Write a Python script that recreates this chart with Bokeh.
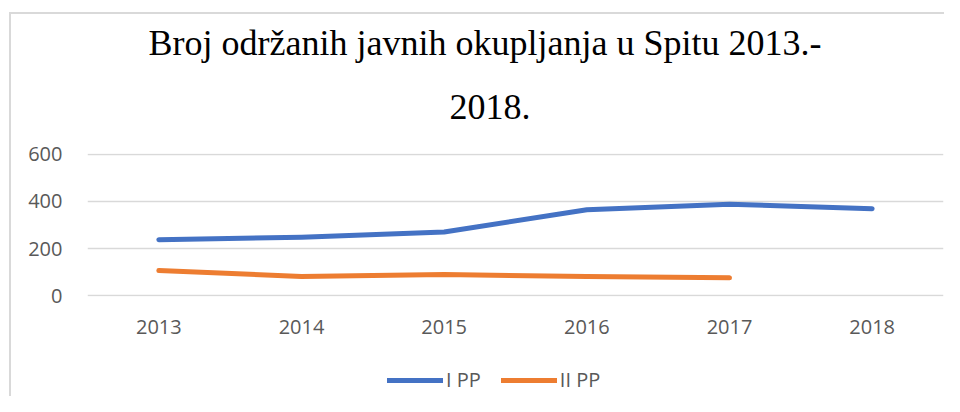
from bokeh.plotting import figure
from bokeh.layouts import column
from bokeh.models import Range1d, FactorRange, Legend, LegendItem, FixedTicker, Title
from bokeh.embed import file_html
from bokeh.resources import INLINE

years = ["2013", "2014", "2015", "2016", "2017", "2018"]
i_pp = [238, 248, 270, 365, 388, 369]
ii_pp = [107, 82, 90, 82, 76]
y_ticks = [0, 200, 400, 600]
title_line1 = "Broj održanih javnih okupljanja u Spitu 2013.-"
title_line2 = "2018."
series_names = ["I PP", "II PP"]
colors = ["#4472C4", "#ED7D31"]

x_range = FactorRange(factors=years, range_padding=0)
p = figure(frame_width=856, frame_height=143, x_range=x_range,
           y_range=Range1d(-3, 603), output_backend="svg", toolbar_location=None,
           min_border_left=87, min_border_right=1, min_border_top=153, min_border_bottom=46)
p.outline_line_color = None
p.background_fill_color = "white"
p.border_fill_alpha = 0
p.styles = {"box-shadow": "inset 9px 12px 0 0 white, inset 11px 14px 0 0 #d9d9d9"}

p.title.visible = False
t2 = Title(text=title_line2, align="left", offset=362, text_font="Liberation Serif",
           text_font_size="36px", text_font_style="normal", text_color="black", standoff=70)
t1 = Title(text=title_line1, align="left", offset=61, text_font="Liberation Serif",
           text_font_size="36px", text_font_style="normal", text_color="black", standoff=-10)
p.add_layout(t2, "above")
p.add_layout(t1, "above")

p.line(years, i_pp, line_color=colors[0], line_width=5, line_cap="round", line_join="round")
p.line(years[:len(ii_pp)], ii_pp, line_color=colors[1], line_width=5, line_cap="round", line_join="round")

p.yaxis.ticker = FixedTicker(ticks=y_ticks)
p.yaxis.axis_line_color = None
p.yaxis.major_tick_line_color = None
p.yaxis.minor_tick_line_color = None
p.yaxis.major_label_standoff = 19
p.yaxis.major_label_text_font = "Open Sans"
p.yaxis.major_label_text_font_size = "20px"
p.yaxis.major_label_text_color = "#595959"

p.xaxis.axis_line_color = None
p.xaxis.major_tick_line_color = None
p.xaxis.minor_tick_line_color = None
p.xaxis.major_label_standoff = 17
p.xaxis.major_label_text_font = "Open Sans"
p.xaxis.major_label_text_font_size = "20px"
p.xaxis.major_label_text_color = "#595959"

p.xgrid.grid_line_color = None
p.ygrid.grid_line_color = "#d9d9d9"
p.ygrid.grid_line_width = 1.5

# legend strip below the chart (series drawn outside its visible y-range)
p2 = figure(width=944, height=54, x_range=x_range, y_range=Range1d(1000, 1100),
            output_backend="svg", toolbar_location=None,
            x_axis_location=None, y_axis_location=None, min_border=0)
p2.outline_line_color = None
p2.grid.grid_line_color = None
p2.border_fill_alpha = 0
p2.background_fill_alpha = 0
p2.styles = {"box-shadow": "inset 9px 0 0 0 white, inset 11px 0 0 0 #d9d9d9"}
l1 = p2.line(years, i_pp, line_color=colors[0], line_width=5, line_cap="round")
l2 = p2.line(years[:len(ii_pp)], ii_pp, line_color=colors[1], line_width=5, line_cap="round")
legend = Legend(items=[LegendItem(label=series_names[0], renderers=[l1]),
                       LegendItem(label=series_names[1], renderers=[l2])],
                orientation="horizontal", location=(300, 3),
                glyph_width=56, label_standoff=3, spacing=20,
                label_text_font="Open Sans", label_text_font_size="20px",
                label_text_color="#595959", border_line_color=None,
                background_fill_alpha=0, padding=0, margin=0)
p2.add_layout(legend, "center")

layout = column(p, p2, spacing=0)
open("out.html", "w").write(file_html(layout, INLINE))
